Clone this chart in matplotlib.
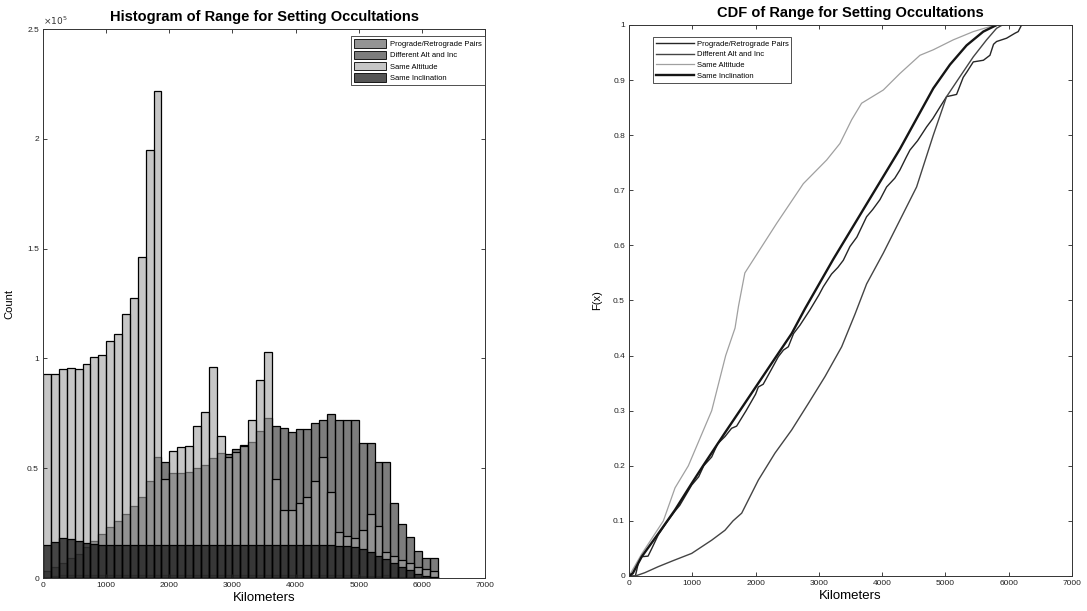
import numpy as np
import matplotlib
matplotlib.use("Agg")
import matplotlib.pyplot as plt
from matplotlib.patches import Patch
from matplotlib.ticker import FuncFormatter

plt.rcParams['font.family'] = ['Liberation Sans', 'DejaVu Sans']

# ---- histogram data: 125 km bins from 0 to 6250 km (counts) ----
bin_width = 125
bin_edges = np.arange(0, 6250, bin_width)

prograde_counts = [0, 800, 1200, 1300, 1200, 1200, 1250, 1200, 1200, 1300,
                   1200, 1250, 1200, 1200, 1300, 1250, 1200, 1250, 1300, 1200,
                   1250, 1200, 1300, 1250, 1200, 1250, 1300, 1200, 1250, 1300,
                   1200, 1250, 1200, 1300, 1250, 1200, 1300, 1250, 1200, 1250,
                   1100, 1000, 900, 1200, 500, 300, 600, 400, 300, 500]

diff_alt_inc_counts = [3000, 5000, 7000, 9000, 11000, 14000, 17000, 20000, 23200, 26000,
                       29000, 33000, 37000, 44000, 55000, 53000, 48000, 48000, 48500, 50000,
                       51500, 54500, 56800, 56500, 58600, 60500, 62000, 67000, 73000, 69000,
                       68500, 66600, 68000, 68000, 70400, 72000, 74700, 72000, 72000, 72000,
                       61500, 61500, 52700, 52700, 34300, 24600, 18800, 12400, 9000, 9300]

same_alt_counts = [93000, 93000, 95000, 95500, 95000, 97500, 100500, 101500, 108000, 111000,
                   120000, 127500, 146000, 195000, 222000, 45000, 58000, 59500, 60000, 69000,
                   75500, 96000, 64500, 55000, 57500, 60000, 72000, 90000, 103000, 45000,
                   31000, 31000, 34000, 37000, 44000, 55000, 39000, 21000, 19000, 18000,
                   22000, 29000, 23500, 12000, 10000, 8000, 7000, 5000, 4000, 3000]

same_inc_counts = [15000, 16500, 18000, 17800, 17000, 16000, 15500, 15000, 15000, 15000,
                   15000, 15000, 15000, 15000, 15000, 15000, 15000, 15000, 15000, 15000,
                   15000, 15000, 15000, 15000, 15000, 15000, 15000, 15000, 15000, 15000,
                   15000, 15000, 15000, 15000, 15000, 15000, 15000, 14800, 14500, 14000,
                   13000, 12000, 10000, 8500, 7000, 5000, 3500, 2000, 1000, 500]

series_names = ["Prograde/Retrograde Pairs", "Different Alt and Inc",
                "Same Altitude", "Same Inclination"]

# ---- empirical CDF samples (km, F) ----
prograde_km = [0, 100, 150, 200, 300, 360, 463, 600, 727, 800, 990, 1100, 1180, 1306, 1400,
               1516, 1620, 1700, 1850, 2000, 2043, 2120, 2250, 2359, 2440, 2517, 2600, 2700,
               2859, 3000, 3070, 3200, 3300, 3386, 3491, 3600, 3754, 3850, 3965, 4070, 4200,
               4281, 4380, 4439, 4560, 4702, 4800, 4913, 5018, 5100, 5176, 5281, 5340, 5440,
               5600, 5703, 5760, 5808, 5966, 6098, 6150, 6203]
prograde_F = [0, 0.0, 0.025, 0.035, 0.036, 0.05, 0.075, 0.098, 0.118, 0.128, 0.165, 0.18,
              0.2, 0.216, 0.24, 0.253, 0.268, 0.272, 0.3, 0.33, 0.343, 0.348, 0.375, 0.398,
              0.41, 0.416, 0.44, 0.455, 0.483, 0.51, 0.525, 0.548, 0.56, 0.573, 0.598, 0.615,
              0.652, 0.665, 0.683, 0.706, 0.722, 0.737, 0.76, 0.773, 0.79, 0.815, 0.83, 0.851,
              0.87, 0.872, 0.874, 0.905, 0.915, 0.933, 0.936, 0.945, 0.965, 0.97, 0.976, 0.985,
              0.988, 1.0]

diff_alt_km = [0, 100, 250, 463, 700, 990, 1306, 1516, 1643, 1780, 2043, 2306, 2570, 2833,
               3097, 3360, 3570, 3754, 4018, 4281, 4544, 4808, 5018, 5228, 5439, 5650, 5808, 5900]
diff_alt_F = [0, 0, 0.006, 0.017, 0.028, 0.041, 0.065, 0.083, 0.1, 0.114, 0.174, 0.223, 0.265,
              0.313, 0.362, 0.416, 0.475, 0.53, 0.586, 0.646, 0.706, 0.80, 0.87, 0.906, 0.942,
              0.973, 0.994, 1.0]

same_alt_km = [0, 100, 200, 542, 727, 937, 1306, 1527, 1675, 1730, 1830, 2333, 2754, 3123,
               3333, 3518, 3675, 4018, 4281, 4597, 4808, 5123, 5440, 5703, 5860]
same_alt_F = [0, 0.02, 0.04, 0.10, 0.16, 0.20, 0.30, 0.40, 0.45, 0.49, 0.55, 0.64, 0.712,
              0.755, 0.785, 0.828, 0.858, 0.882, 0.912, 0.945, 0.955, 0.973, 0.988, 0.997, 1.0]

same_inc_km = [0, 60, 200, 463, 727, 990, 1170, 1516, 1780, 2043, 2306, 2570, 2780, 3228,
               3754, 4281, 4544, 4808, 5071, 5334, 5598, 5810]
same_inc_F = [0, 0.005, 0.035, 0.077, 0.12, 0.168, 0.2, 0.26, 0.305, 0.35, 0.395, 0.44,
              0.485, 0.575, 0.675, 0.775, 0.83, 0.885, 0.928, 0.963, 0.988, 1.0]

km_ticks = list(range(0, 7001, 1000))

# grayscale fills (rgba) for the four histograms, drawn in legend order
hist_faces = [(0.30, 0.30, 0.30, 0.6), (0.15, 0.15, 0.15, 0.6),
              (0.63, 0.63, 0.63, 0.6), (0.08, 0.08, 0.08, 0.72)]
cdf_styles = [dict(color='#262626', lw=1.0), dict(color='#444444', lw=1.0),
              dict(color='#a0a0a0', lw=0.9), dict(color='#151515', lw=1.7)]

fig = plt.figure(figsize=(10.87, 6.11), dpi=100)
ax1 = fig.add_axes([0.0396, 0.054, 0.4066, 0.8985])
ax2 = fig.add_axes([0.5787, 0.0573, 0.4075, 0.9018])

# ---- left: overlaid histograms ----
for counts, face in zip([prograde_counts, diff_alt_inc_counts, same_alt_counts, same_inc_counts],
                        hist_faces):
    ax1.bar(bin_edges, counts, width=bin_width, align='edge',
            facecolor=face, edgecolor='black', linewidth=0.9)

ax1.set_xlim(0, 7000)
ax1.set_ylim(0, 2.5e5)
ax1.set_xticks(km_ticks)
ax1.set_yticks([0, 0.5e5, 1e5, 1.5e5, 2e5, 2.5e5])
ax1.yaxis.set_major_formatter(FuncFormatter(lambda v, p: f"{v / 1e5:g}"))
ax1.text(0.0, 1.004, r"$\times10^5$", transform=ax1.transAxes, fontsize=6.5,
         ha='left', va='bottom', color='#333333')
ax1.set_title("Histogram of Range for Setting Occultations", fontsize=10.5,
              fontweight='bold', pad=6)
ax1.set_xlabel("Kilometers", fontsize=9.5, labelpad=2)
ax1.set_ylabel("Count", fontsize=8, labelpad=9)

hist_handles = [Patch(facecolor=f, edgecolor='black', linewidth=0.6) for f in hist_faces]
leg1 = ax1.legend(hist_handles, series_names, loc='upper right',
                  bbox_to_anchor=(1.0, 0.987), borderaxespad=0, fontsize=5.5,
                  handlelength=4.2, handleheight=1.3, handletextpad=0.5,
                  labelspacing=0.35, borderpad=0.4, fancybox=False, framealpha=1)
leg1.get_frame().set_edgecolor('#333333')
leg1.get_frame().set_linewidth(0.6)

# ---- right: cumulative distributions ----
for km, F, name, st in zip([prograde_km, diff_alt_km, same_alt_km, same_inc_km],
                           [prograde_F, diff_alt_F, same_alt_F, same_inc_F],
                           series_names, cdf_styles):
    ax2.plot(km, F, label=name, **st)

ax2.set_xlim(0, 7000)
ax2.set_ylim(0, 1)
ax2.set_xticks(km_ticks)
ax2.set_yticks(np.round(np.arange(0, 1.01, 0.1), 1))
ax2.yaxis.set_major_formatter(FuncFormatter(lambda v, p: f"{v:g}"))
ax2.set_title("CDF of Range for Setting Occultations", fontsize=10.5,
              fontweight='bold', pad=6)
ax2.set_xlabel("Kilometers", fontsize=9.5, labelpad=2)
ax2.set_ylabel("F(x)", fontsize=8, labelpad=8)

leg2 = ax2.legend(loc='upper left', bbox_to_anchor=(0.054, 0.978), borderaxespad=0,
                  fontsize=5.5, handlelength=5.0, handletextpad=0.3,
                  labelspacing=0.45, borderpad=0.4, fancybox=False, framealpha=1)
leg2.get_frame().set_edgecolor('#333333')
leg2.get_frame().set_linewidth(0.6)

for ax in (ax1, ax2):
    ax.tick_params(direction='in', top=True, right=True, length=3, width=0.6,
                   labelsize=6, pad=3, colors='#222222')
    for s in ax.spines.values():
        s.set_linewidth(0.7)
        s.set_color('#333333')

fig.savefig("out.png", dpi=100)
